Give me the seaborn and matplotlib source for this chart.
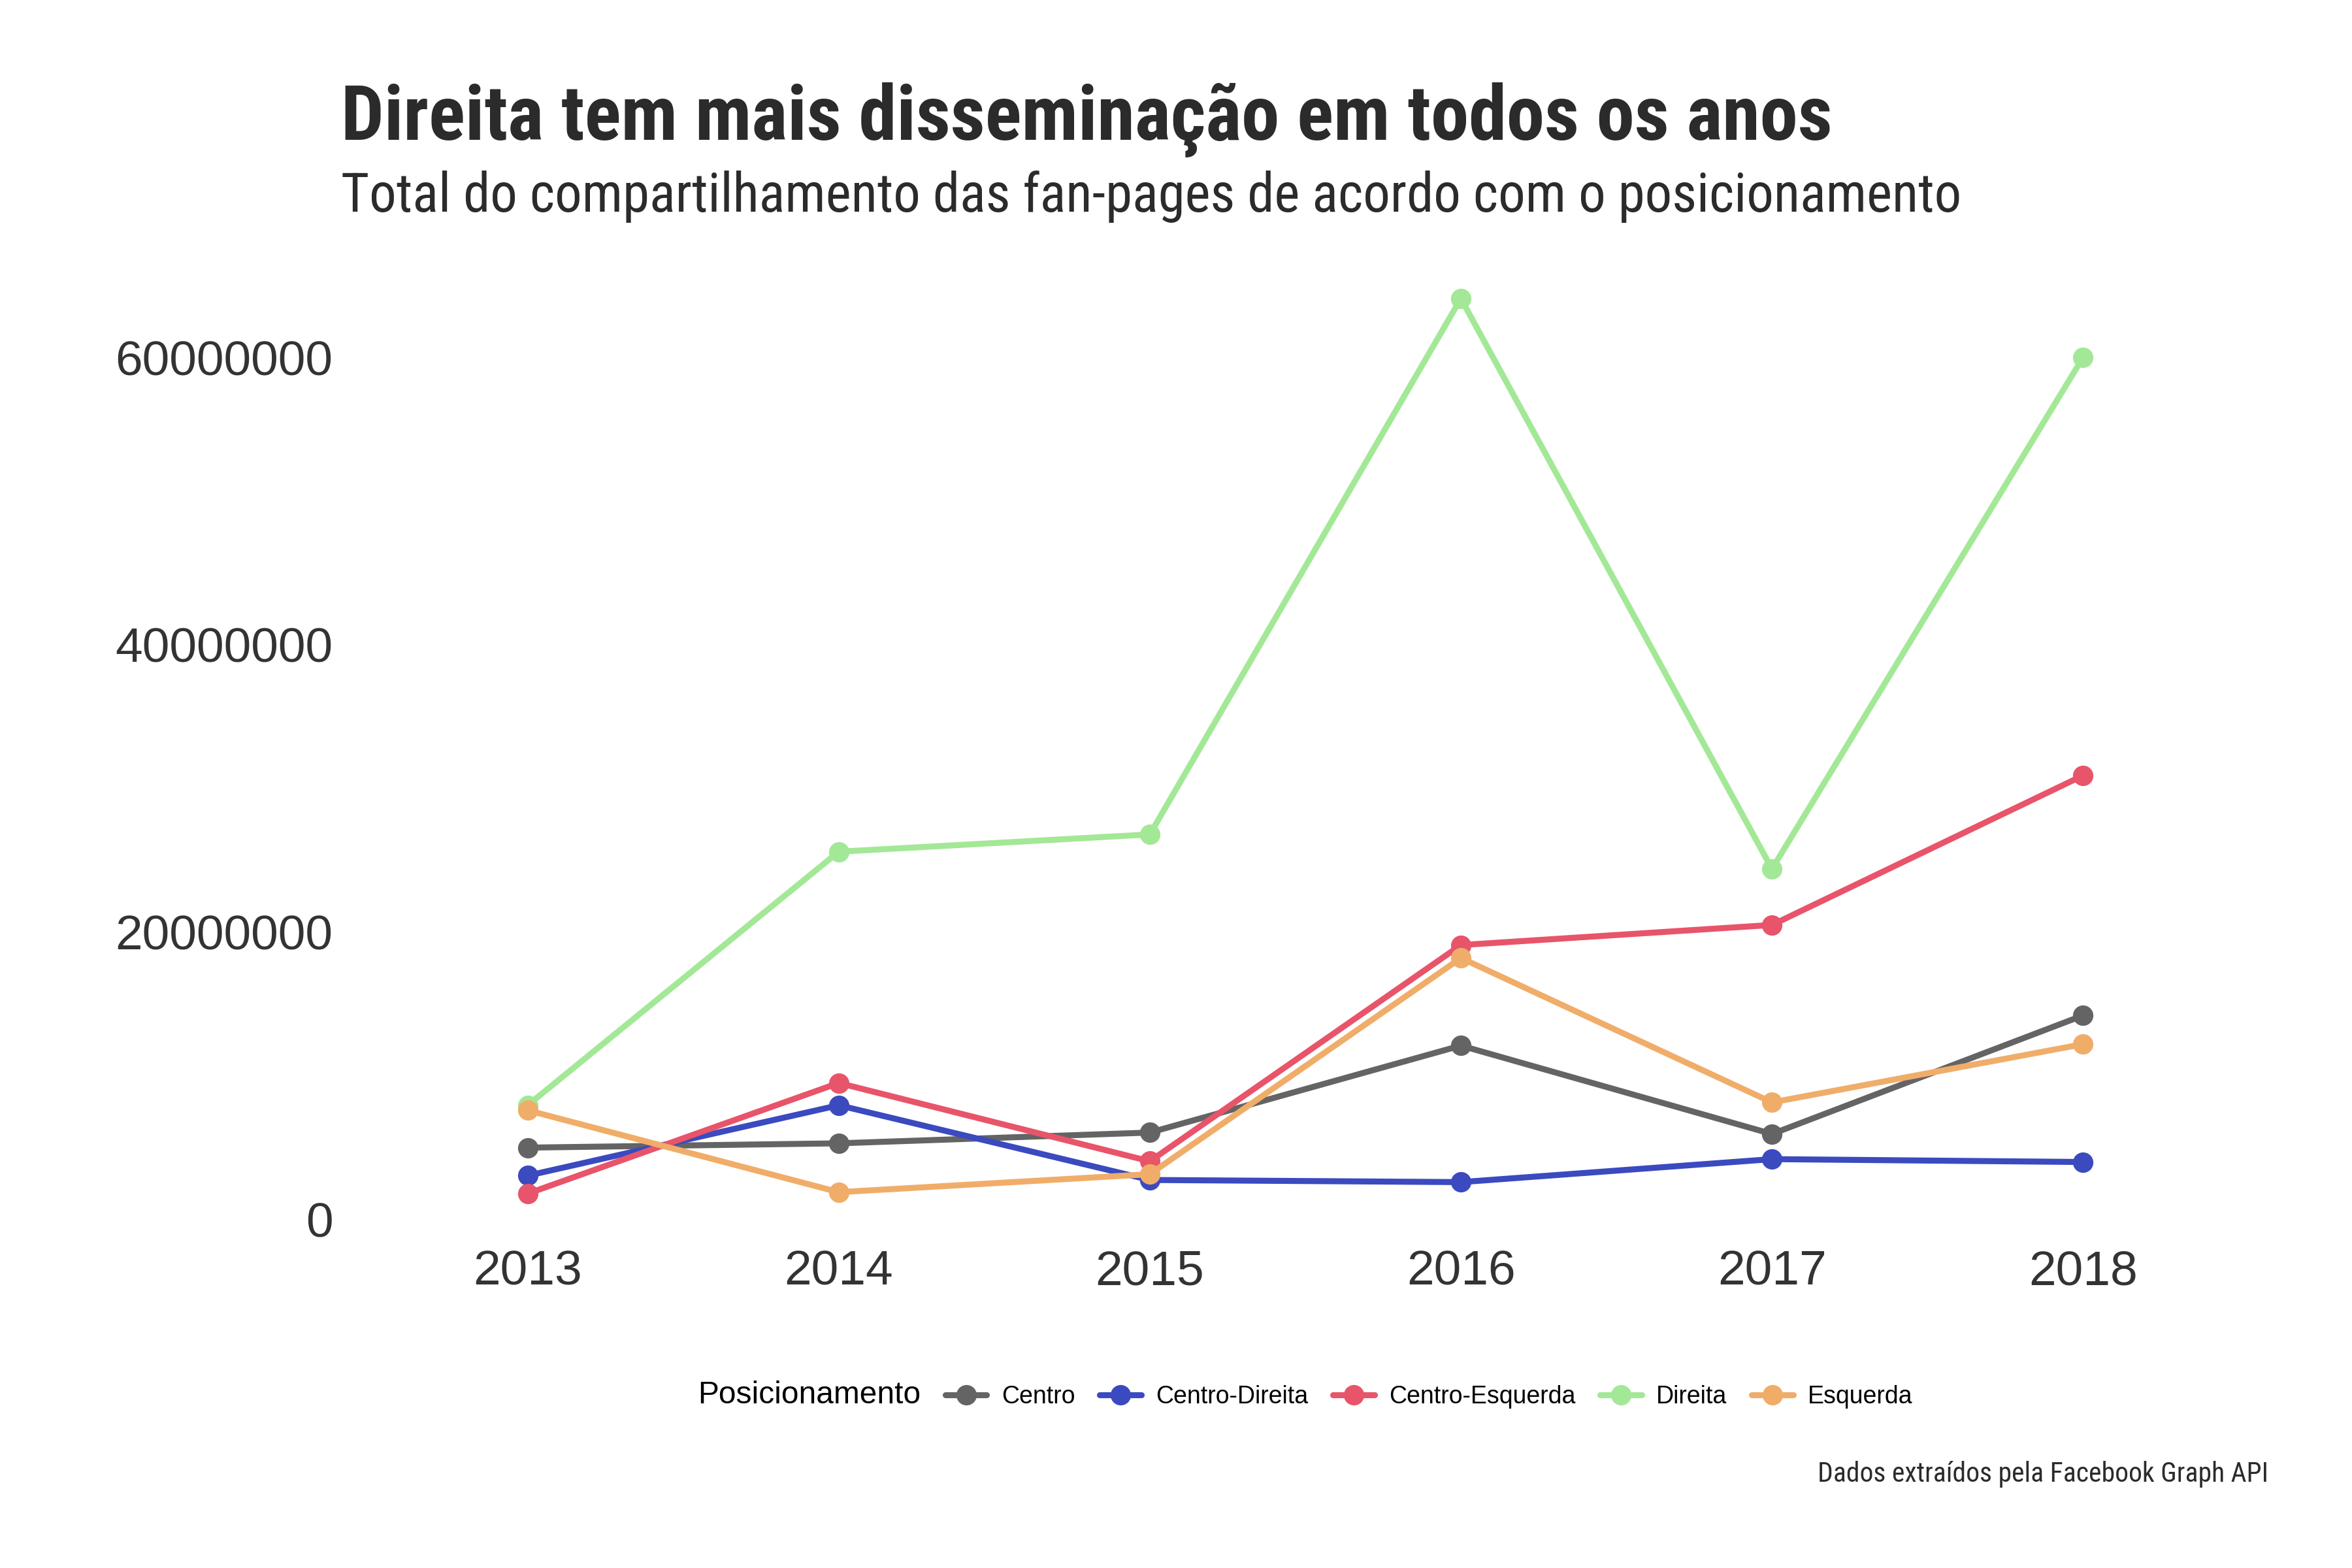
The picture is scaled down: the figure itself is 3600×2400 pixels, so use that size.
import seaborn as sns
import matplotlib.pyplot as plt
import matplotlib.ticker as mticker
from matplotlib.lines import Line2D
import pandas as pd

# Dados
anos = [2013, 2014, 2015, 2016, 2017, 2018]
centro = [5.0e6, 5.3e6, 6.05e6, 12.1e6, 5.95e6, 14.2e6]
centro_direita = [3.05e6, 7.95e6, 2.75e6, 2.6e6, 4.2e6, 4.0e6]
centro_esquerda = [1.8e6, 9.5e6, 4.05e6, 19.1e6, 20.5e6, 30.9e6]
direita = [7.95e6, 25.6e6, 26.8e6, 64.1e6, 24.4e6, 60.0e6]
esquerda = [7.6e6, 1.9e6, 3.15e6, 18.2e6, 8.15e6, 12.2e6]

grupos = ["Centro", "Centro-Direita", "Centro-Esquerda", "Direita", "Esquerda"]
cores = ["#646464", "#3b4abf", "#e8546a", "#a3e896", "#f0ad69"]

df = pd.DataFrame({
    "ano": anos * 5,
    "valor": centro + centro_direita + centro_esquerda + direita + esquerda,
    "Posicionamento": [g for g in grupos for _ in anos],
})

sns.set_style("white")
plt.rcParams["font.family"] = ["Liberation Sans", "DejaVu Sans"]

fig = plt.figure(figsize=(12, 8), dpi=300)
ax = fig.add_axes([0.145, 0.21, 0.82, 0.628])

sns.lineplot(data=df, x="ano", y="valor", hue="Posicionamento", hue_order=grupos,
             palette=dict(zip(grupos, cores)), marker="o", markersize=7.5,
             markeredgewidth=0, linewidth=2.2, ax=ax)

ax.set_xlim(2012.4, 2018.6)
ax.set_ylim(-1.34e6, 67.2e6)
ax.set_xticks(anos)
ax.set_yticks([0, 20e6, 40e6, 60e6])
ax.yaxis.set_major_formatter(mticker.FuncFormatter(lambda v, p: "%d" % v))
ax.tick_params(axis="both", length=0, labelsize=18, colors="#333333")
ax.tick_params(axis="y", pad=3)
ax.tick_params(axis="x", pad=4)
ax.set_xlabel("")
ax.set_ylabel("")
for s in ax.spines.values():
    s.set_visible(False)

# legenda horizontal com titulo a esquerda
handles, labels = ax.get_legend_handles_labels()
ax.get_legend().remove()
vazio = Line2D([], [], linestyle="none")
leg = fig.legend([vazio] + handles, ["Posicionamento"] + labels, loc="center",
                 bbox_to_anchor=(0.543, 0.11), ncol=6, frameon=False, fontsize=9,
                 handlelength=1.7, handletextpad=0.6, columnspacing=1.0)
for t in leg.get_texts():
    t.set_color("black")
leg.get_texts()[0].set_fontsize(11.5)
for h in leg.legend_handles[1:]:
    h.set_linewidth(2.2)
    h.set_markersize(7.5)

fonte_titulo = ["Roboto Condensed", "Liberation Sans Narrow", "Roboto", "DejaVu Sans"]
fig.text(0.145, 0.911, "Direita tem mais disseminação em todos os anos", fontsize=28,
         fontweight="bold", color="#2b2b2b", family=fonte_titulo, ha="left", va="baseline")
fig.text(0.145, 0.865, "Total do compartilhamento das fan-pages de acordo com o posicionamento",
         fontsize=19.9, color="#2b2b2b", family=fonte_titulo, ha="left", va="baseline")
fig.text(0.9645, 0.055, "Dados extraídos pela Facebook Graph API", fontsize=10,
         color="#2b2b2b", family=fonte_titulo, ha="right", va="baseline")

fig.savefig("out.png", dpi=300, facecolor="white")
